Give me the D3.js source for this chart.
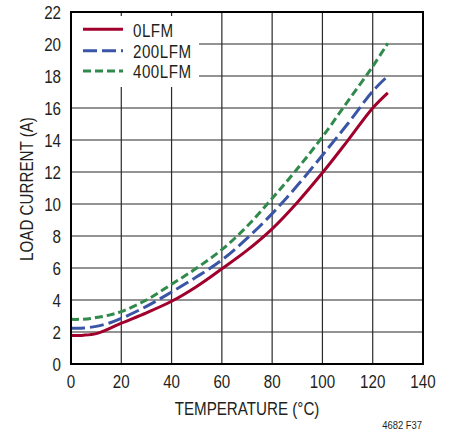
<!DOCTYPE html>
<html><head><meta charset="utf-8">
<script src="https://cdn.jsdelivr.net/npm/d3@7"></script>
<style>
html,body{margin:0;padding:0;background:#fff;}
svg text{font-family:"Liberation Sans",Arial,sans-serif;fill:#231f20;}
</style></head>
<body>
<svg id="chart" width="455" height="437"></svg>
<script>
const temperature = [0, 5, 10, 15, 20, 30, 40, 50, 60, 70, 80, 90, 100, 110, 120, 126];
const lfm0   = [1.78, 1.8, 1.9, 2.2, 2.55, 3.2, 3.92, 4.85, 5.95, 7.1, 8.45, 10.1, 11.95, 13.95, 16.0, 16.95];
const lfm200 = [2.23, 2.25, 2.35, 2.55, 2.85, 3.6, 4.5, 5.45, 6.5, 7.85, 9.4, 11.15, 13.05, 15.0, 17.05, 18.0];
const lfm400 = [2.79, 2.8, 2.9, 3.05, 3.27, 4.0, 4.98, 6.0, 7.15, 8.6, 10.35, 12.2, 14.2, 16.4, 18.6, 20.05];
const seriesNames = ["0LFM", "200LFM", "400LFM"];
const xTicks = [0, 20, 40, 60, 80, 100, 120, 140];
const yTicks = [0, 2, 4, 6, 8, 10, 12, 14, 16, 18, 20, 22];

const colors = ["#a0002b", "#3a55a5", "#2f8a4b"];
const dashes = [null, "14,5", "8,4"];
const seriesVals = [lfm0, lfm200, lfm400];
const SX = 0.82; // condensed look

const svg = d3.select("#chart");
const x = d3.scaleLinear().domain([0, 140]).range([71, 423]);
const y = d3.scaleLinear().domain([0, 22]).range([364, 12]);

function label(px, py, txt, size, anchor, rot) {
  return svg.append("text")
    .attr("transform", `translate(${px},${py})${rot ? " rotate(" + rot + ")" : ""} scale(${SX},1)`)
    .attr("text-anchor", anchor || "start")
    .attr("font-size", size)
    .text(txt);
}

// gridlines
const grid = svg.append("g");
grid.selectAll(".vg").data(xTicks.slice(1, -1)).join("line")
  .attr("x1", d => x(d)).attr("x2", d => x(d)).attr("y1", y(0)).attr("y2", y(22))
  .attr("stroke", "#2a2a2a").attr("stroke-width", 1.2);
grid.selectAll(".hg").data(yTicks.slice(1, -1)).join("line")
  .attr("x1", x(0)).attr("x2", x(140)).attr("y1", d => y(d)).attr("y2", d => y(d))
  .attr("stroke", "#2a2a2a").attr("stroke-width", 1.2);

// legend background
svg.append("rect").attr("x", x(0) + 1).attr("y", 16).attr("width", 127).attr("height", 71).attr("fill", "#fff");

// lines
const line = d3.line().x(d => x(d[0])).y(d => y(d[1])).curve(d3.curveCatmullRom.alpha(0.5));
seriesVals.forEach((vals, i) => {
  svg.append("path")
    .datum(temperature.map((t, j) => [t, vals[j]]))
    .attr("d", line)
    .attr("fill", "none")
    .attr("stroke", colors[i])
    .attr("stroke-width", 3)
    .attr("stroke-dasharray", dashes[i]);
});

// frame
svg.append("rect").attr("x", x(0)).attr("y", y(22)).attr("width", x(140) - x(0)).attr("height", y(0) - y(22))
  .attr("fill", "none").attr("stroke", "#000").attr("stroke-width", 2);

// tick labels
xTicks.forEach(d => label(x(d), 388, d, 18.5, "middle"));
yTicks.forEach(d => label(61, y(d) + 6.6, d, 18.5, "end"));

// axis titles
label((x(0) + x(140)) / 2, 415, "TEMPERATURE (°C)", 18.5, "middle");
label(33, 189, "LOAD CURRENT (A)", 18.5, "middle", -90);

// legend
const legY = [29.3, 50.7, 71];
seriesNames.forEach((name, i) => {
  svg.append("line").attr("x1", 83).attr("x2", 123).attr("y1", legY[i]).attr("y2", legY[i])
    .attr("stroke", colors[i]).attr("stroke-width", 3).attr("stroke-dasharray", dashes[i]);
  label(133, legY[i] + 7.2, name, 18.5, "start").attr("letter-spacing", 0.6);
});

// figure id
label(422, 429, "4682 F37", 11.5, "end");
</script>
</body></html>
